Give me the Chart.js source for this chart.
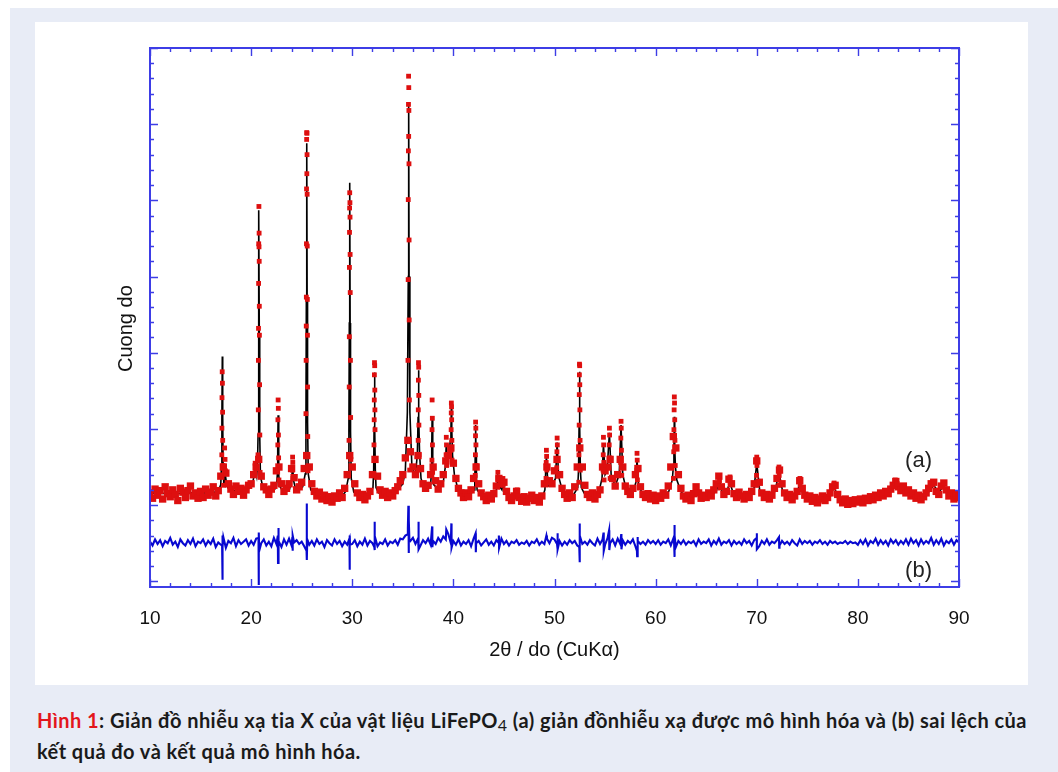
<!DOCTYPE html>
<html lang="vi">
<head>
<meta charset="utf-8">
<title>XRD LiFePO4</title>
<script src="https://cdn.jsdelivr.net/npm/chart.js@4.4.1/dist/chart.umd.min.js"></script>
<style>
  body { margin: 0; background: #fff; width: 1058px; height: 772px; overflow: hidden; position: relative; }
  .outer { position: absolute; left: 10px; top: 8px; right: 0; bottom: 0; background: #e8ecf6; }
  .panel { position: absolute; left: 35px; top: 22px; width: 993px; height: 663px; background: #fff; }
  #xrd { position: absolute; left: 100px; top: 0; }
  .caption { position: absolute; left: 37px; top: 707px; width: 1015px; font: bold 20px Lato, "Open Sans", sans-serif; letter-spacing: 0.45px; line-height: 26px; color: #1a1a1a; white-space: nowrap; }
  .caption .fig { color: #e3161c; }
  .caption sub { font-weight: normal; font-size: 16px; vertical-align: -3px; }
</style>
</head>
<body>
<div class="outer"></div>
<div class="panel"></div>
<canvas id="xrd" width="900" height="680"></canvas>
<div class="caption"><span class="fig">Hình 1</span>: Giản đồ nhiễu xạ tia X của vật liệu LiFePO<sub>4</sub> (a) giản đồnhiễu xạ được mô hình hóa và (b) sai lệch của<br>kết quả đo và kết quả mô hình hóa.</div>
<script>
// 2theta grid for the observed background band and the difference curve (10..90, step 0.25)
const gridStart = 10;
const gridStep = 0.25;

// observed intensity on the grid (arbitrary units)
const obsGrid = [
  116,109,121,113,119,108,124,115,111,120,114,106,122,117,110,119,125,112,116,109,
  118,110,121,113,117,124,112,119,138,150,142,128,121,114,125,118,122,113,120,126,
  128,140,150,160,138,124,120,114,121,126,145,150,128,118,122,128,148,136,120,124,
  130,148,165,150,128,118,112,117,108,113,106,111,104,112,109,116,110,122,140,165,
  150,128,116,110,114,107,112,118,140,160,138,120,113,118,110,116,112,119,124,132,
  140,162,185,170,150,140,165,148,128,122,126,140,150,132,121,128,140,158,165,175,
  155,135,122,116,110,116,111,120,135,150,128,116,111,106,113,108,115,125,135,128,
  130,118,110,106,112,118,110,105,111,104,109,113,106,110,104,112,128,150,132,128,
  145,160,140,122,114,109,116,110,124,150,175,150,126,114,110,116,108,114,120,150,
  145,150,160,135,125,140,160,150,125,118,114,122,140,148,124,114,110,115,108,113,
  106,112,109,116,113,125,150,190,175,140,122,112,108,113,106,115,124,116,109,113,
  110,116,112,120,128,138,124,114,118,134,128,115,110,117,112,108,114,110,118,128,
  158,130,116,110,114,108,113,122,135,146,128,116,110,114,107,112,118,132,122,113,
  108,112,105,110,103,108,112,106,110,116,124,126,114,107,103,108,101,106,102,107,
  104,108,103,109,106,111,107,113,110,116,112,118,115,121,126,131,124,119,125,116,
  120,112,116,109,113,107,111,116,122,128,130,118,114,125,129,120,112,116,108,114,
  110
];

// observed points on the peak flanks [2theta, intensity]
const obsPeaks = [
  [17.14,275],[17.16,260],[17.12,241],[17.18,222],[17.11,201],[17.19,185],[17.10,166],[17.22,152],[17.07,139],[17.27,126],[17.38,175],[17.42,160],[17.46,145],
  [20.40,155],[20.45,148],[20.77,492],[20.79,457],[20.75,443],[20.78,439],[20.80,420],[20.74,391],[20.81,361],[20.73,332],[20.82,323],[20.72,290],[20.84,258],[20.71,225],[20.86,192],[20.68,166],[20.89,143],
  [22.67,238],[22.69,227],[22.65,212],[22.70,192],[22.64,179],[22.72,162],[22.62,146],[22.75,133],
  [24.10,163],[24.12,156],[24.08,146],[24.14,135],
  [25.50,589],[25.52,588],[25.49,580],[25.53,560],[25.51,535],[25.48,515],[25.54,508],[25.47,443],[25.55,440],[25.46,373],[25.56,370],[25.45,335],[25.57,323],[25.44,290],[25.58,255],[25.42,220],[25.60,190],[25.40,165],[25.63,145],
  [29.75,510],[29.77,497],[29.74,490],[29.78,478],[29.73,458],[29.79,429],[29.72,412],[29.80,379],[29.71,321],[29.82,290],[29.70,255],[29.84,215],[29.68,185],[29.86,160],[29.65,140],
  [32.20,287],[32.22,283],[32.19,271],[32.23,251],[32.18,238],[32.24,225],[32.17,212],[32.25,199],[32.15,179],[32.27,159],[32.13,139],
  [35.57,663],[35.59,648],[35.56,626],[35.60,618],[35.58,584],[35.55,565],[35.61,548],[35.54,501],[35.62,448],[35.53,396],[35.63,343],[35.51,290],[35.65,238],[35.48,185],[35.68,146],
  [36.55,287],[36.57,281],[36.54,264],[36.58,244],[36.53,225],[36.59,205],[36.52,185],[36.61,166],[36.50,146],
  [37.90,238],[37.92,214],[37.89,199],[37.93,179],[37.88,159],[37.95,143],
  [39.30,189],[39.32,179],[39.28,166],[39.34,152],
  [39.80,234],[39.82,229],[39.79,221],[39.83,212],[39.78,199],[39.85,185],[39.76,172],[39.87,159],
  [42.20,209],[42.22,201],[42.19,191],[42.23,179],[42.18,166],[42.25,152],[42.16,139],
  [44.40,143],[44.42,135],[44.38,126],[44.90,135],[44.92,126],[46.30,120],
  [49.20,172],[49.22,164],[49.18,156],[49.24,146],[49.16,135],
  [50.26,188],[50.28,179],[50.24,170],[50.30,159],[50.22,149],[50.33,138],
  [52.47,285],[52.49,283],[52.46,271],[52.50,258],[52.45,245],[52.51,225],[52.44,205],[52.53,185],[52.42,166],[52.55,146],[52.40,130],
  [54.84,189],[54.86,179],[54.82,166],[54.88,156],[54.80,146],[54.90,133],
  [55.43,201],[55.45,192],[55.41,179],[55.47,162],[55.39,149],[55.50,135],
  [56.58,210],[56.60,201],[56.56,188],[56.62,172],[56.54,156],[56.65,139],
  [58.16,168],[58.18,159],[58.14,146],[58.20,133],
  [61.85,242],[61.87,234],[61.83,225],[61.89,212],[61.81,199],[61.91,185],[61.79,170],[61.94,152],[61.76,135],
  [64.00,124],[66.30,139],[66.32,132],[67.35,137],[67.37,130],
  [70.00,163],[70.02,152],[69.98,139],[70.04,126],
  [72.20,150],[72.22,139],[72.18,126],[74.27,135],[74.29,127],[77.65,129],
  [83.70,133],[83.90,128],[87.50,130],[88.50,129]
];

// calculated profile (black line) [2theta, intensity]
const calcPts = [
  [10,116],[12,115],[14,116],[16,116],[16.75,118],[17.0,127],[17.07,153],[17.11,215],[17.15,295],[17.19,215],[17.23,153],[17.3,127],[17.45,140],[17.6,125],[17.9,119],
  [18.5,119],[19.2,119],[19.8,122],[20.2,132],[20.4,148],[20.55,138],[20.62,150],[20.69,193],[20.73,322],[20.77,487],[20.81,322],[20.85,193],[20.92,138],[21.2,121],
  [21.7,118],[22.3,120],[22.52,125],[22.59,140],[22.63,174],[22.67,218],[22.71,174],[22.75,140],[22.82,125],[23.1,119],
  [23.5,119],[23.8,121],[24.0,132],[24.1,152],[24.2,132],[24.4,121],[24.8,121],
  [25.1,124],[25.35,141],[25.42,209],[25.46,369],[25.5,575],[25.54,369],[25.58,209],[25.65,141],[25.9,120],
  [26.4,113],[27.0,110],[27.8,109],[28.5,110],[29.0,112],[29.35,118],[29.6,135],[29.67,197],[29.71,339],[29.75,523],[29.79,339],[29.83,197],[29.9,135],[30.15,117],
  [30.6,112],[31.2,111],[31.8,115],[32.05,123],[32.12,147],[32.16,202],[32.2,274],[32.24,202],[32.28,147],[32.35,123],[32.6,116],
  [33.2,114],[34.0,115],[34.6,122],[35.0,128],[35.25,145],[35.45,222],[35.54,400],[35.58,629],[35.62,400],[35.7,222],[35.9,150],[36.2,140],
  [36.3,147],[36.44,167],[36.51,215],[36.55,277],[36.59,215],[36.66,167],[36.8,135],[37.1,122],
  [37.55,124],[37.75,127],[37.82,141],[37.86,174],[37.9,216],[37.94,174],[37.98,141],[38.05,127],[38.4,122],
  [39.0,130],[39.2,150],[39.3,180],[39.4,160],[39.55,165],[39.7,185],[39.76,200],[39.8,227],[39.84,200],[39.92,165],[40.1,140],[40.5,118],
  [41.0,113],[41.5,114],[41.8,116],[42.05,120],[42.12,133],[42.16,165],[42.2,205],[42.24,165],[42.28,133],[42.35,120],[42.7,114],
  [43.3,110],[43.8,111],[44.1,115],[44.3,122],[44.4,138],[44.55,125],[44.8,120],[44.9,130],[45.05,118],[45.4,111],
  [45.8,108],[46.1,111],[46.3,117],[46.5,110],[47.0,108],[47.8,108],[48.4,108],
  [48.8,110],[49.05,120],[49.2,165],[49.35,125],[49.7,125],[50.1,135],[50.26,182],[50.4,138],[50.8,118],
  [51.3,112],[51.9,114],[52.3,123],[52.38,147],[52.43,203],[52.47,275],[52.51,203],[52.56,147],[52.65,123],[53.0,114],
  [53.5,112],[54.0,113],[54.4,118],[54.7,135],[54.84,180],[55.0,140],[55.2,145],[55.43,195],[55.6,140],[56.0,125],[56.4,140],[56.58,205],[56.75,140],[57.1,120],
  [57.5,117],[57.8,118],[58.05,130],[58.16,160],[58.3,128],[58.7,114],
  [59.2,111],[60.0,110],[60.8,112],[61.3,118],[61.65,133],[61.75,150],[61.81,175],[61.85,216],[61.89,175],[61.96,150],[62.1,133],[62.5,118],[63.0,110],
  [63.6,111],[64.0,120],[64.3,112],[65.0,112],[65.6,114],[66.0,118],[66.3,132],[66.6,116],[67.0,117],[67.35,130],[67.7,114],
  [68.3,112],[69.0,113],[69.7,118],[70.0,155],[70.3,118],[71.0,111],
  [71.8,118],[72.2,143],[72.6,115],[73.3,111],[74.0,116],[74.27,130],[74.6,112],
  [75.5,107],[76.5,108],[77.3,112],[77.65,125],[78.0,110],[78.8,105],[79.6,104],
  [80.5,106],[81.5,109],[82.5,114],[83.2,119],[83.7,127],[84.3,121],[85.0,117],[86.0,111],[87.0,117],[87.5,126],[88.0,117],[88.5,125],[89.0,114],[90.0,111]
];

// difference curve on the grid
const diffGrid = [
  52,47,55,49,54,46,53,50,57,48,52,45,55,50,47,54,49,56,46,52,
  50,55,47,53,49,56,45,51,48,58,44,53,50,57,46,54,49,52,55,47,
  53,48,56,44,50,55,47,52,46,57,49,53,45,55,48,56,47,51,54,49,
  52,46,57,48,53,47,55,49,52,45,54,50,47,55,49,53,46,52,48,55,
  49,54,46,52,48,56,47,53,50,58,46,51,49,55,47,52,50,54,48,56,
  55,60,62,53,57,49,56,47,54,50,56,48,53,49,57,52,59,55,62,50,
  53,48,55,47,52,49,54,46,56,50,53,47,51,55,48,52,47,54,50,56,
  49,53,47,52,50,54,48,51,49,53,47,52,50,55,48,52,49,56,50,57,
  55,49,53,47,52,48,54,50,53,47,55,49,52,48,54,50,47,56,49,55,
  48,57,50,55,47,56,49,54,48,53,50,55,46,53,49,52,48,54,50,53,
  49,54,48,52,50,55,47,56,45,53,49,54,48,52,50,53,47,55,49,52,
  50,55,47,53,49,56,48,52,50,54,47,53,49,52,48,55,50,53,47,54,
  57,46,53,49,55,48,52,50,54,47,53,49,52,48,54,50,47,55,49,53,
  50,53,48,52,50,54,49,52,48,53,50,52,49,51,50,53,49,52,50,51,
  48,54,49,55,47,53,50,56,48,54,49,53,47,55,50,54,48,53,49,55,
  48,56,50,54,47,55,49,53,50,57,48,54,49,56,47,53,50,55,48,54,
  51
];

// spikes of the difference curve at the reflections
const diffSpikes = [
  [17.13,48],[17.15,2],[17.17,60],[17.2,45],
  [20.73,57],[20.75,-5],[20.77,64],[20.8,40],
  [22.64,60],[22.66,24],[22.68,70],[22.7,45],
  [24.08,58],[24.1,40],[24.12,60],
  [25.48,40],[25.5,102],[25.52,28],[25.55,55],
  [29.72,56],[29.74,15],[29.76,60],[29.78,48],
  [32.18,45],[32.2,78],[32.22,41],[32.24,58],
  [35.5,70],[35.55,99],[35.58,37],[35.6,80],[35.65,55],
  [36.53,50],[36.55,78],[36.57,42],
  [37.9,72],[37.92,45],
  [39.3,68],[39.5,62],[39.8,76],[39.82,44],
  [42.2,63],[42.22,38],
  [44.5,60],[44.52,44],
  [49.2,60],[50.3,63],[50.32,42],
  [52.45,45],[52.47,76],[52.49,25],[52.52,60],
  [54.85,64],[54.87,40],[55.4,67],[55.42,41],[56.6,62],[56.62,42],
  [58.15,40],[58.17,33],[58.2,58],
  [61.83,50],[61.85,74],[61.87,32],[61.9,60],
  [70,63],[70.02,42],
  [72.2,58],[72.22,44]
];

// series tags (a) and (b), placed in data units
const tagText = ['(a)', '(b)'];
const tagX = [86, 86];
const tagY = [158, 13];

const axisBlue = '#3d3de6';
const obsRed = '#de0f0f';

const toXY = p => ({ x: p[0], y: p[1] });
const byX = (a, b) => a.x - b.x;

const bandData = obsGrid.map((v, i) => ({ x: gridStart + i * gridStep, y: v }));
const peakData = obsPeaks.map(toXY);
const calcData = calcPts.map(toXY).sort(byX);
const diffData = diffGrid.map((v, i) => ({ x: gridStart + i * gridStep, y: v }))
  .concat(diffSpikes.map(toXY)).sort(byX);

// frame, inward ticks on all four sides, and the (a)/(b) tags
const frameTicks = {
  id: 'frameTicks',
  afterDatasetsDraw(chart) {
    const { ctx, chartArea: a, scales: { x, y } } = chart;
    ctx.save();
    ctx.strokeStyle = axisBlue;
    ctx.lineWidth = 1.4;
    ctx.beginPath();
    for (let v = 10; v <= 90; v += 2) {
      const px = Math.round(x.getPixelForValue(v)) + 0.5;
      const len = v % 10 === 0 ? 8 : 4;
      ctx.moveTo(px, a.bottom); ctx.lineTo(px, a.bottom - len);
      ctx.moveTo(px, a.top); ctx.lineTo(px, a.top + len);
    }
    for (let v = 0; v <= 700; v += 20) {
      const py = Math.round(y.getPixelForValue(v)) + 0.5;
      const len = v % 100 === 0 ? 8 : 4;
      ctx.moveTo(a.left, py); ctx.lineTo(a.left + len, py);
      ctx.moveTo(a.right, py); ctx.lineTo(a.right - len, py);
    }
    ctx.stroke();
    ctx.lineWidth = 2;
    ctx.strokeRect(a.left, a.top, a.right - a.left, a.bottom - a.top);

    ctx.fillStyle = '#222';
    ctx.font = '22px "Liberation Sans", Arial, sans-serif';
    ctx.textAlign = 'center';
    ctx.textBaseline = 'middle';
    tagText.forEach((t, i) => {
      ctx.fillText(t, x.getPixelForValue(tagX[i]), y.getPixelForValue(tagY[i]));
    });
    ctx.restore();
  }
};

new Chart(document.getElementById('xrd'), {
  type: 'scatter',
  data: {
    datasets: [
      {
        label: 'observed (peaks)',
        data: peakData,
        showLine: false,
        pointStyle: 'rect',
        pointRadius: 3.4,
        pointBorderWidth: 0,
        backgroundColor: obsRed,
        borderColor: obsRed
      },
      {
        label: 'observed',
        data: bandData,
        showLine: false,
        pointStyle: 'rect',
        pointRadius: 5.2,
        pointBorderWidth: 0,
        backgroundColor: obsRed,
        borderColor: obsRed
      },
      {
        label: 'calculated',
        data: calcData,
        showLine: true,
        pointRadius: 0,
        borderColor: '#000',
        borderWidth: 1.6
      },
      {
        label: 'difference',
        data: diffData,
        showLine: true,
        pointRadius: 0,
        borderColor: '#0808d0',
        borderWidth: 2.1
      }
    ]
  },
  options: {
    responsive: false,
    animation: false,
    layout: { padding: { top: 48, right: 41, left: 0, bottom: 0 } },
    plugins: { legend: { display: false }, tooltip: { enabled: false } },
    scales: {
      x: {
        type: 'linear',
        min: 10,
        max: 90,
        grid: { display: false, drawTicks: false },
        border: { display: false },
        ticks: {
          stepSize: 2,
          autoSkip: false,
          maxRotation: 0,
          padding: 20,
          color: '#111',
          font: { family: '"Liberation Sans", Arial, sans-serif', size: 19 },
          callback: v => (v % 10 === 0 ? v : '')
        },
        title: {
          display: true,
          text: '2θ / do (CuKα)',
          color: '#111',
          font: { family: '"Liberation Sans", Arial, sans-serif', size: 20 },
          padding: { top: 0, bottom: 18 }
        },
        afterFit: s => { s.height = 93; }
      },
      y: {
        type: 'linear',
        min: -7.5,
        max: 700,
        grid: { display: false, drawTicks: false },
        border: { display: false },
        ticks: { display: false, stepSize: 20 },
        title: {
          display: true,
          text: 'Cuong do    ',
          color: '#111',
          font: { family: '"Liberation Sans", Arial, sans-serif', size: 20 },
          padding: { top: 14, bottom: 0 }
        },
        afterFit: s => { s.width = 50; }
      }
    }
  },
  plugins: [frameTicks]
});
</script>
</body>
</html>
